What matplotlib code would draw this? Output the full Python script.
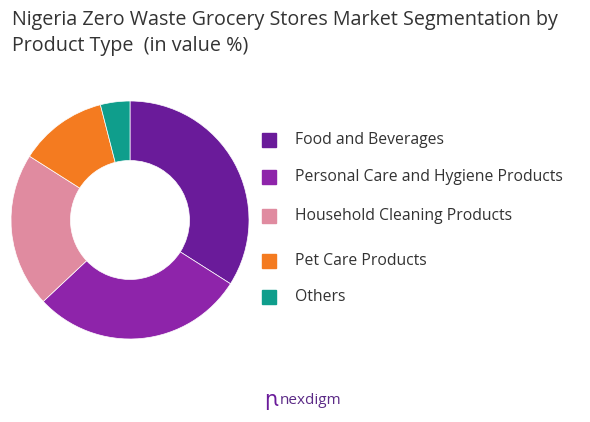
import matplotlib.pyplot as plt
from matplotlib.patches import Rectangle

categories = ["Food and Beverages", "Personal Care and Hygiene Products",
              "Household Cleaning Products", "Pet Care Products", "Others"]
shares = [34, 29, 21, 12, 4]
colors = ["#6a1b9a", "#8e24aa", "#e08ba0", "#f47b20", "#0f9e8c"]
legend_y = [140, 177, 216, 261, 297]  # pixel rows of legend entries

plt.rcParams['font.family'] = ['Open Sans', 'DejaVu Sans']
W, H = 590, 422
fig = plt.figure(figsize=(W / 100, H / 100), dpi=100)

fig.text(12 / W, 1 - 20 / H, "Nigeria Zero Waste Grocery Stores Market Segmentation by",
         fontsize=14.2, color="#333333", va="center")
fig.text(12 / W, 1 - 46 / H, "Product Type  (in value %)",
         fontsize=14.2, color="#333333", va="center")

r = 119
ax = fig.add_axes([(130 - r) / W, (H - 220 - r) / H, 2 * r / W, 2 * r / H])
ax.pie(shares, colors=colors, startangle=90, counterclock=False,
       wedgeprops=dict(width=0.5, edgecolor="white", linewidth=0.5))
ax.set_xlim(-1, 1)
ax.set_ylim(-1, 1)
ax.set_aspect("equal")

for name, col, y in zip(categories, colors, legend_y):
    fig.patches.append(Rectangle((262 / W, 1 - (y + 7) / H), 14 / W, 14 / H,
                                 transform=fig.transFigure, color=col))
    fig.text(295 / W, 1 - y / H, name, fontsize=11.3, color="#333333", va="center")

fig.text(280 / W, 1 - 400 / H, "nexdigm", fontsize=11, color="#5b2a86", va="center")
fig.text(264 / W, 1 - 400 / H, "ꞃ", fontsize=15, color="#6a1b9a", va="center")

fig.savefig("out.png", dpi=100)
